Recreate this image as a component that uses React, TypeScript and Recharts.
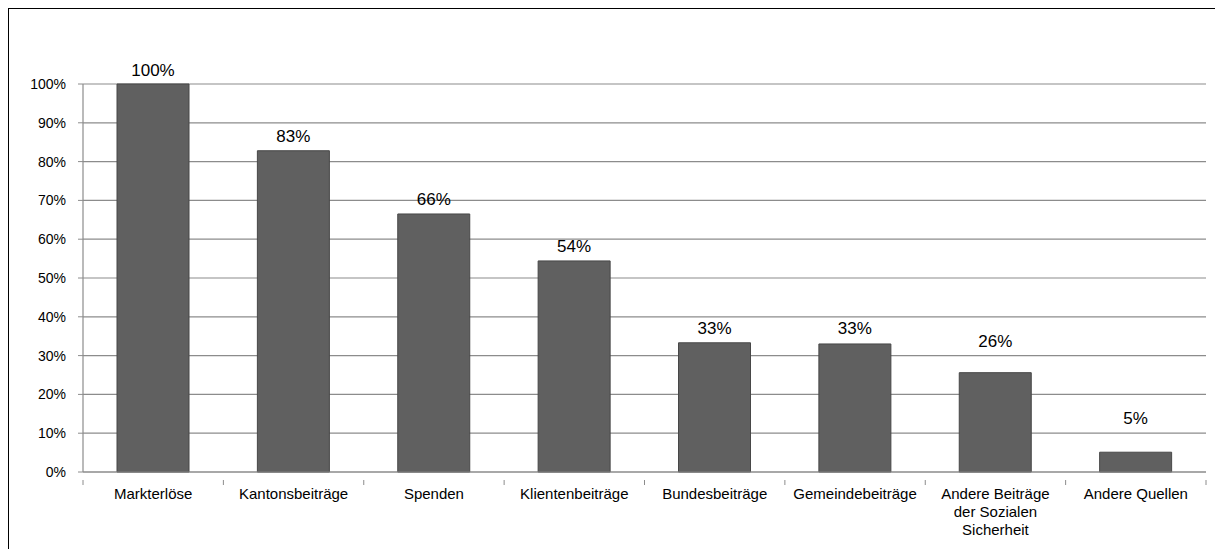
import { Bar, BarChart, CartesianGrid, LabelList, Text, XAxis, YAxis } from "recharts";

const categories = [
  "Markterlöse",
  "Kantonsbeiträge",
  "Spenden",
  "Klientenbeiträge",
  "Bundesbeiträge",
  "Gemeindebeiträge",
  "Andere Beiträge der Sozialen Sicherheit",
  "Andere Quellen",
];
const shares = [100, 82.8, 66.5, 54.4, 33.3, 33.0, 25.6, 5.1];
const labels = ["100%", "83%", "66%", "54%", "33%", "33%", "26%", "5%"];
const yTicks = [0, 10, 20, 30, 40, 50, 60, 70, 80, 90, 100];

const data = categories.map((name, i) => ({ name, share: shares[i], label: labels[i] }));

// Excel moved the last two labels further up by hand
const labelLift = [14, 14, 14, 14, 14, 15, 31, 34];

const FONT = "'Liberation Sans', Arial, sans-serif";
const GRID = "#8c8c8c";

function CategoryTick(props: any) {
  const { x, y, payload, index } = props;
  const half = payload?.offset ?? 70;
  return (
    <g>
      <line x1={x - half} y1={y} x2={x - half} y2={y + 5} stroke={GRID} />
      {index === categories.length - 1 && (
        <line x1={x + half} y1={y} x2={x + half} y2={y + 5} stroke={GRID} />
      )}
      <Text
        x={x}
        y={y + 8}
        width={125}
        textAnchor="middle"
        verticalAnchor="start"
        lineHeight={18}
        fontSize={15}
        fontFamily={FONT}
        fill="#000"
      >
        {payload.value}
      </Text>
    </g>
  );
}

function ShareLabel(props: any) {
  const { x, y, width, index, value } = props;
  return (
    <text
      x={x + width / 2}
      y={y - labelLift[index]}
      textAnchor="middle"
      dominantBaseline="central"
      fontSize={17}
      fontFamily={FONT}
      fill="#000"
    >
      {value}
    </text>
  );
}

export default function App() {
  return (
    <div
      style={{
        width: 1214,
        height: 540,
        borderTop: "1px solid #000",
        borderLeft: "1px solid #000",
        background: "#fff",
      }}
    >
      <BarChart
        width={1214}
        height={540}
        data={data}
        margin={{ top: 75, right: 17, left: 0, bottom: 0 }}
      >
        <CartesianGrid vertical={false} stroke={GRID} strokeWidth={1.2} />
        <XAxis
          dataKey="name"
          interval={0}
          height={77}
          tickLine={false}
          axisLine={{ stroke: GRID, strokeWidth: 1.2 }}
          tick={<CategoryTick />}
        />
        <YAxis
          domain={[0, 100]}
          ticks={yTicks}
          width={74}
          tickSize={5}
          tickMargin={12}
          tickLine={{ stroke: GRID }}
          axisLine={{ stroke: GRID, strokeWidth: 1.2 }}
          tickFormatter={(v: number) => `${v}%`}
          tick={{ fontSize: 14, fontFamily: FONT, fill: "#000" }}
        />
        <Bar
          dataKey="share"
          fill="#606060"
          stroke="#474747"
          strokeWidth={1}
          barSize={72}
          isAnimationActive={false}
        >
          <LabelList dataKey="label" content={<ShareLabel />} />
        </Bar>
      </BarChart>
    </div>
  );
}
